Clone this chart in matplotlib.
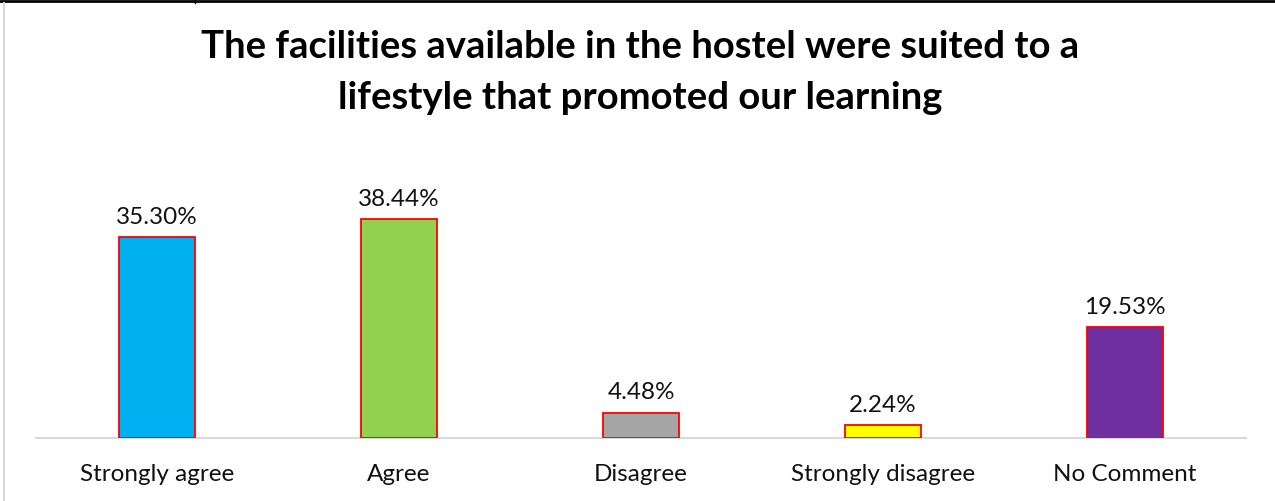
import matplotlib
matplotlib.use("Agg")
import matplotlib.pyplot as plt
from matplotlib.lines import Line2D

categories = ["Strongly agree", "Agree", "Disagree", "Strongly disagree", "No Comment"]
values = [35.30, 38.44, 4.48, 2.24, 19.53]
colors = ["#00b0f0", "#92d050", "#a5a5a5", "#ffff00", "#7030a0"]

plt.rcParams['font.family'] = ['Lato', 'DejaVu Sans']

fig = plt.figure(figsize=(12.75, 5.01), dpi=100)
ax = fig.add_axes([36/1275, 1 - 438/501, 1210/1275, 256/501])

x = range(len(categories))
ax.bar(x, values, width=0.314, color=colors, edgecolor="#ff0000", linewidth=1.3, zorder=3)
for i, v in enumerate(values):
    ax.text(i, v + 1.6, f"{v:.2f}%", ha="center", va="bottom", fontsize=17.5, color="#111111")

ax.set_xlim(-0.5, len(categories) - 0.5)
ax.set_ylim(0, 45)
ax.set_xticks(list(x))
ax.set_xticklabels(categories, fontsize=17.5, color="#111111")
ax.tick_params(axis="x", length=0, pad=19)
ax.set_yticks([])
for s in ["top", "right", "left"]:
    ax.spines[s].set_visible(False)
ax.spines["bottom"].set_color("#d9d9d9")
ax.spines["bottom"].set_linewidth(1.5)

fig.text(0.502, 1 - 47/501, "The facilities available in the hostel were suited to a",
         ha="center", va="center", fontsize=27.5, fontweight="bold")
fig.text(0.502, 1 - 98/501, "lifestyle that promoted our learning",
         ha="center", va="center", fontsize=27.5, fontweight="bold")

# frame pieces at the edges
fig.add_artist(Line2D([0, 1], [1 - 1/501, 1 - 1/501], color="black", lw=2, transform=fig.transFigure))
fig.add_artist(Line2D([195/1275, 195/1275], [1 - 3/501, 1], color="black", lw=1, transform=fig.transFigure))
fig.add_artist(Line2D([3.5/1275, 3.5/1275], [0, 1 - 3/501], color="#d9d9d9", lw=1.5, transform=fig.transFigure))

fig.savefig("out.png", dpi=100)
